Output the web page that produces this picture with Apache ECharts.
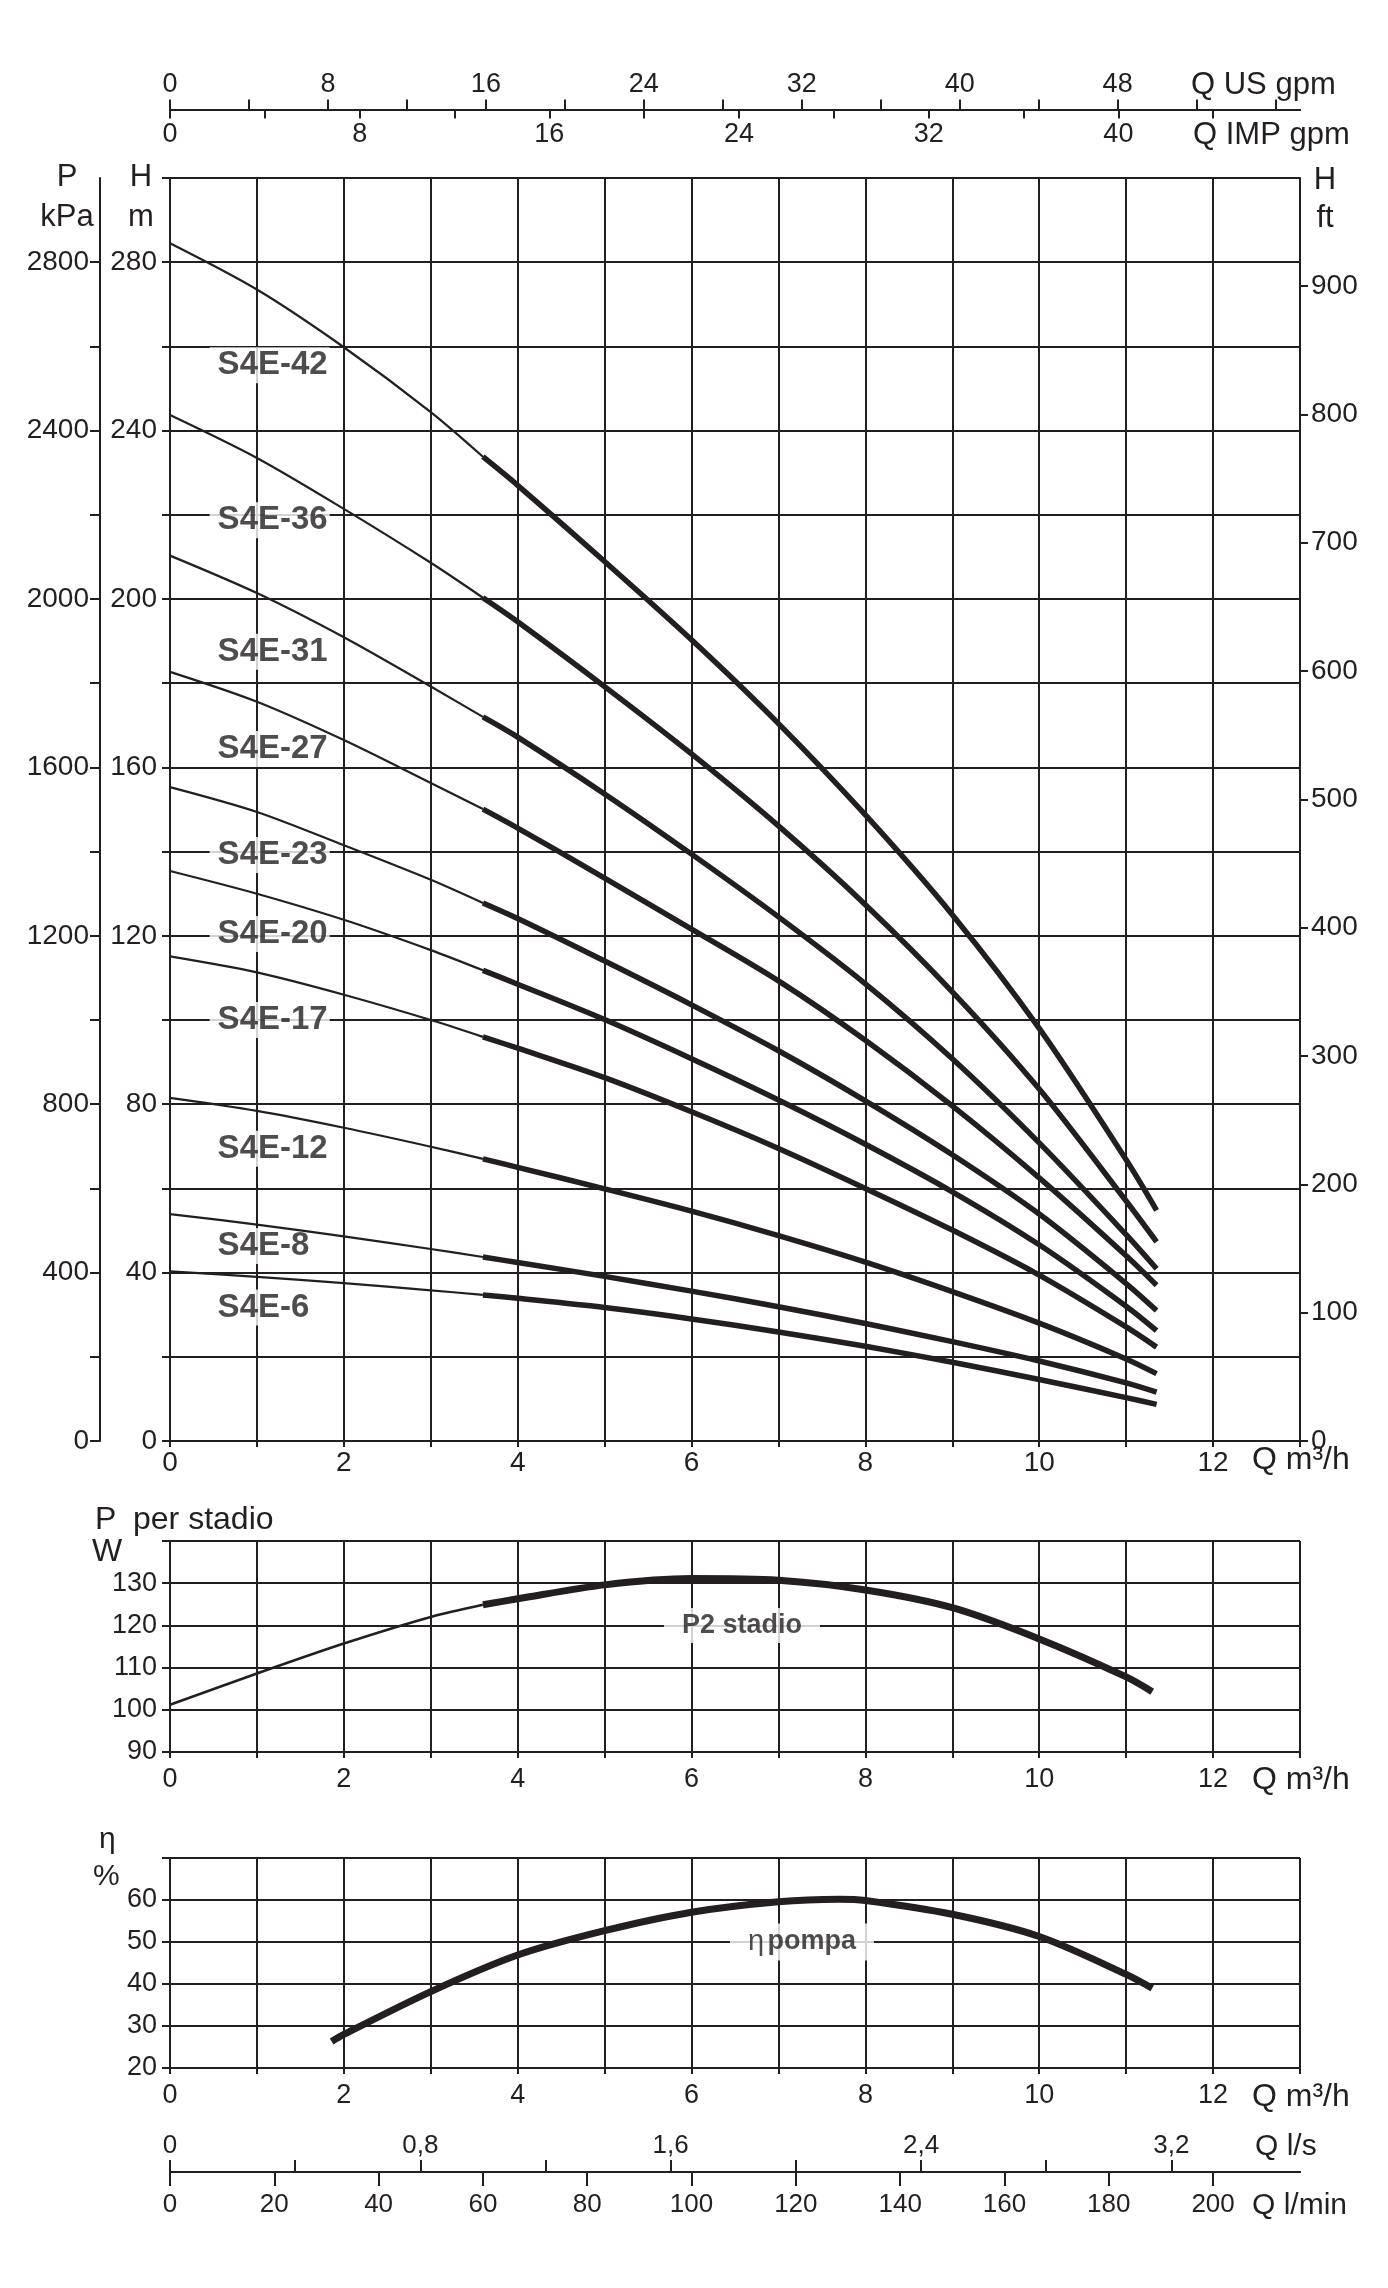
<!DOCTYPE html>
<html>
<head>
<meta charset="utf-8">
<script src="https://cdn.jsdelivr.net/npm/echarts@6.0.0/dist/echarts.min.js"></script>
<style>
  html, body { margin: 0; padding: 0; background: #fff; }
  #main { width: 1388px; height: 2288px; }
</style>
</head>
<body>
<div id="main"></div>
<script>
// flow points (m3/h) where the head curves were read
const qPoints = [0, 1, 2, 3, 3.6, 4, 5, 6, 7, 8, 9, 10, 11, 11.35];
const h42 = [284.5, 273.5, 259.8, 244.4, 233.8, 227.0, 208.9, 190.3, 170.4, 148.7, 125.0, 98.0, 66.8, 54.8];
const h36 = [243.7, 233.5, 221.4, 208.6, 200.3, 194.6, 179.2, 163.2, 146.1, 127.4, 106.7, 83.6, 57.0, 47.3];
const h31 = [210.3, 201.4, 190.9, 179.2, 172.0, 167.2, 153.7, 139.4, 124.5, 108.6, 90.8, 70.8, 49.0, 40.9];
const h27 = [182.7, 175.6, 166.5, 156.3, 150.1, 145.6, 133.7, 121.6, 109.3, 95.2, 79.6, 62.5, 44.0, 37.0];
const h23 = [155.3, 149.4, 141.5, 133.3, 127.8, 124.1, 114.0, 103.6, 92.7, 80.8, 68.0, 53.9, 37.4, 31.0];
const h20 = [135.4, 130.0, 123.8, 116.6, 111.8, 108.5, 100.1, 90.8, 81.0, 70.5, 59.2, 46.6, 32.0, 26.2];
const h17 = [115.1, 111.3, 106.0, 100.0, 96.0, 93.3, 86.3, 78.2, 69.5, 60.0, 50.1, 39.4, 27.1, 22.3];
const h12 = [81.5, 78.4, 74.4, 69.9, 67.0, 65.0, 59.9, 54.6, 48.8, 42.5, 35.5, 28.0, 19.5, 16.0];
const h8  = [53.9, 51.4, 48.6, 45.6, 43.7, 42.4, 39.1, 35.6, 31.9, 27.9, 23.6, 19.0, 13.8, 11.6];
const h6  = [40.3, 39.0, 37.5, 35.8, 34.7, 33.9, 31.7, 29.0, 25.9, 22.5, 18.7, 14.6, 10.3, 8.7];
const curveNames = ['S4E-42', 'S4E-36', 'S4E-31', 'S4E-27', 'S4E-23', 'S4E-20', 'S4E-17', 'S4E-12', 'S4E-8', 'S4E-6'];
const curveHeads = [h42, h36, h31, h27, h23, h20, h17, h12, h8, h6];
const thickFrom = 4; // index of 3.6 m3/h, where the curves get bold
const labelQ = 0.45;
const labelH = [255.5, 218.7, 187.5, 164.4, 139.2, 120.4, 100.0, 69.4, 46.3, 31.7];

// power per stage
const pQ = [0, 1, 2, 3, 3.6, 4, 5, 6, 7, 8, 9, 10, 11, 11.3];
const p2 = [101.2, 108.6, 115.7, 122.0, 124.9, 126.3, 129.6, 131.1, 130.7, 128.4, 124.2, 116.8, 107.8, 104.3];
const p2Label = [6.58, 120];

// pump efficiency
const etaQ = [1.86, 2, 3, 4, 5, 6, 7, 7.7, 8, 9, 10, 11, 11.3];
const eta = [26.3, 28.0, 38.2, 46.9, 52.7, 57.1, 59.6, 60.2, 59.9, 56.6, 51.3, 42.3, 39.0];
const etaLabel = [7.27, 50];

// tick labels
const qLabels = [0, 2, 4, 6, 8, 10, 12];
const hLabels = [0, 40, 80, 120, 160, 200, 240, 280];
const kpaTicks = [0, 200, 400, 600, 800, 1000, 1200, 1400, 1600, 1800, 2000, 2200, 2400, 2600, 2800];
const kpaLabels = [0, 400, 800, 1200, 1600, 2000, 2400, 2800];
const ftLabels = [0, 100, 200, 300, 400, 500, 600, 700, 800, 900];
const usTicks = [0, 4, 8, 12, 16, 20, 24, 28, 32, 36, 40, 44, 48, 52, 56];
const usLabels = [0, 8, 16, 24, 32, 40, 48];
const impTicks = [0, 4, 8, 12, 16, 20, 24, 28, 32, 36, 40, 44];
const impLabels = [0, 8, 16, 24, 32, 40];
const pLabels = [90, 100, 110, 120, 130];
const etaLabels = [20, 30, 40, 50, 60];
const lsTicks = [0, 0.4, 0.8, 1.2, 1.6, 2, 2.4, 2.8, 3.2];
const lsLabels = [0, 0.8, 1.6, 2.4, 3.2];
const lminLabels = [0, 20, 40, 60, 80, 100, 120, 140, 160, 180, 200];

const QMAX = 13;
const INK = '#231f20';
const FONT = '"Liberation Sans", Arial, Helvetica, sans-serif';

const chart = echarts.init(document.getElementById('main'));

const line = { lineStyle: { color: INK, width: 2 } };
const txt = (size) => ({ color: INK, fontFamily: FONT, fontSize: size });
const plain = v => String(v);

function qAxis(grid, margin, size) {
  return {
    gridIndex: grid, type: 'value', min: 0, max: QMAX, interval: 1, position: 'bottom',
    axisLine: { show: true, onZero: false, lineStyle: { color: INK, width: 2 } },
    axisTick: { show: true, length: 6, lineStyle: { color: INK, width: 2 } },
    axisLabel: Object.assign({ customValues: qLabels, margin: margin, formatter: plain }, txt(size)),
    splitLine: Object.assign({ show: true }, line)
  };
}
// secondary scale sharing a grid, ticks/labels given as lists
function unitAxis(grid, pos, offset, max, ticks, labels, inside, tickLen, margin, size, fmt) {
  return {
    gridIndex: grid, type: 'value', min: 0, max: max, position: pos, offset: offset,
    axisLine: { show: true, onZero: false, lineStyle: { color: INK, width: 2 } },
    axisTick: { show: true, inside: inside, length: tickLen, customValues: ticks, lineStyle: { color: INK, width: 2 } },
    axisLabel: Object.assign({ inside: inside, margin: margin, customValues: labels, formatter: fmt || plain }, txt(size)),
    splitLine: { show: false }
  };
}
function valAxis(grid, min, max, interval, labels, margin, size) {
  return {
    gridIndex: grid, type: 'value', min: min, max: max, interval: interval, position: 'left',
    axisLine: { show: true, onZero: false, lineStyle: { color: INK, width: 2 } },
    axisTick: { show: true, length: 8, lineStyle: { color: INK, width: 2 } },
    axisLabel: Object.assign({ customValues: labels, margin: margin, formatter: plain }, txt(size)),
    splitLine: Object.assign({ show: true }, line)
  };
}

const pairs = (xs, ys) => xs.map((x, i) => [x, ys[i]]);
const curve = (xi, yi, data, width) => ({
  type: 'line', xAxisIndex: xi, yAxisIndex: yi, data: data, smooth: 0.3,
  symbol: 'none', z: 3, silent: true, lineStyle: { color: INK, width: width, cap: 'butt' }
});

const series = [];
curveHeads.forEach((h, i) => {
  const pts = pairs(qPoints, h);
  series.push(curve(0, 0, pts.slice(0, thickFrom + 1), 2.2));
  series.push(curve(0, 0, pts.slice(thickFrom), 5.5));
});
series.push({
  type: 'scatter', xAxisIndex: 0, yAxisIndex: 0, z: 2, silent: true, symbolSize: 1,
  itemStyle: { color: 'rgba(0,0,0,0)' },
  data: curveNames.map((n, i) => ({ name: n, value: [labelQ, labelH[i]] })),
  label: Object.assign({ show: true, position: 'right', distance: 0, formatter: '{b}', fontWeight: 'bold',
    backgroundColor: '#fff', padding: [3, 2, 0, 8] }, txt(33))
});

const pPts = pairs(pQ, p2);
series.push(curve(3, 3, pPts.slice(0, 5), 2.5));
series.push(curve(3, 3, pPts.slice(4), 7));
series.push({
  type: 'scatter', xAxisIndex: 3, yAxisIndex: 3, z: 2, silent: true, symbolSize: 1, itemStyle: { color: 'rgba(0,0,0,0)' },
  data: [{ name: 'P2 stadio', value: p2Label }],
  label: Object.assign({ show: true, position: 'inside', formatter: '{b}', fontWeight: 'bold',
    backgroundColor: '#fff', padding: [4, 18] }, txt(27))
});

series.push(curve(4, 4, pairs(etaQ, eta), 7));
series.push({
  type: 'scatter', xAxisIndex: 4, yAxisIndex: 4, z: 2, silent: true, symbolSize: 1, itemStyle: { color: 'rgba(0,0,0,0)' },
  data: [{ name: 'pompa', value: etaLabel }],
  label: {
    show: true, position: 'inside', formatter: '{a|η} {b|pompa}', backgroundColor: '#fff', padding: [4, 18],
    rich: {
      a: txt(29),
      b: Object.assign({ fontWeight: 'bold' }, txt(27))
    }
  }
});

function t(text, x, y, size, align) {
  return { type: 'text', silent: true, style: { text: text, x: x, y: y, fill: INK,
    font: size + 'px ' + FONT, textAlign: align || 'left', textVerticalAlign: 'middle' } };
}

const option = {
  animation: false,
  backgroundColor: '#fff',
  grid: [
    { left: 170, top: 178, width: 1130, height: 1263, containLabel: false, outerBoundsMode: 'none' },
    { left: 170, top: 1541, width: 1130, height: 211, containLabel: false, outerBoundsMode: 'none' },
    { left: 170, top: 1858, width: 1130, height: 210, containLabel: false, outerBoundsMode: 'none' }
  ],
  xAxis: [
    qAxis(0, 8, 28),
    unitAxis(0, 'top', 68.5, QMAX / 0.2271247, usTicks, usLabels, false, 10, 11, 27),
    unitAxis(0, 'top', 68.5, QMAX / 0.2727654, impTicks, impLabels, true, 9, 12, 27),
    qAxis(1, 14, 27),
    qAxis(2, 14, 27),
    unitAxis(2, 'bottom', 104, QMAX * 1000 / 60, lminLabels, lminLabels, false, 14, 20, 26),
    unitAxis(2, 'bottom', 104, QMAX / 3.6, lsTicks, lsLabels, true, 12, 13, 26, v => String(v).replace('.', ','))
  ],
  yAxis: [
    valAxis(0, 0, 300, 20, hLabels, 13, 28),
    unitAxis(0, 'left', 70, 3000, kpaTicks, kpaLabels, false, 10, 11, 28),
    unitAxis(0, 'right', 0, 300 / 0.3048, ftLabels, ftLabels, false, 8, 11, 28),
    valAxis(1, 90, 140, 10, pLabels, 13, 27),
    valAxis(2, 20, 70, 10, etaLabels, 13, 27)
  ],
  series: series,
  graphic: [
    t('Q US gpm', 1191, 85, 31),
    t('Q IMP gpm', 1193, 135, 31),
    t('P', 67, 177, 31, 'center'),
    t('kPa', 67, 217, 31, 'center'),
    t('H', 141, 177, 31, 'center'),
    t('m', 141, 217, 31, 'center'),
    t('H', 1325, 180, 31, 'center'),
    t('ft', 1325, 218, 31, 'center'),
    t('Q m³/h', 1252, 1460, 32),
    t('P', 95, 1520, 32),
    t('per stadio', 133, 1520, 32),
    t('W', 92, 1552, 32),
    t('Q m³/h', 1252, 1780, 32),
    t('η', 99, 1840, 30),
    t('%', 93, 1877, 30),
    t('Q m³/h', 1252, 2097, 32),
    t('Q l/s', 1255, 2147, 30),
    t('Q l/min', 1252, 2206, 30)
  ]
};
chart.setOption(option);
</script>
</body>
</html>
